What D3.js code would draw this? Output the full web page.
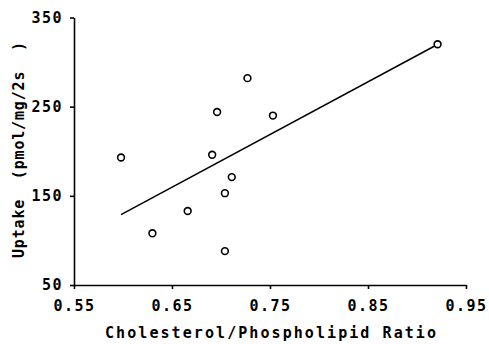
<!DOCTYPE html>
<html>
<head>
<meta charset="utf-8">
<script src="https://cdn.jsdelivr.net/npm/d3@7"></script>
<style>
body { margin: 0; background: #fff; }
text { font-family: "DejaVu Sans Mono", monospace; fill: #000; font-weight: bold; }
</style>
</head>
<body>
<div id="chart"></div>
<script>
// values
var ratio  = [0.598, 0.630, 0.666, 0.691, 0.696, 0.704, 0.704, 0.711, 0.727, 0.753, 0.921]
var uptake = [193, 108, 133, 196, 244, 88, 153, 171, 282, 240, 320]
var fitX = [0.598, 0.918]
var fitY = [129, 318]
var xTicks = [0.55, 0.65, 0.75, 0.85, 0.95]
var yTicks = [50, 150, 250, 350]

const width = 489, height = 344
const svg = d3.select("#chart").append("svg")
    .attr("width", width)
    .attr("height", height)

const x = d3.scaleLinear().domain([0.55, 0.95]).range([74, 466])
const y = d3.scaleLinear().domain([50, 350]).range([285, 17.5])

// axes
const xAxis = svg.append("g")
    .attr("transform", `translate(0, ${y(50)})`)
    .call(d3.axisBottom(x).tickValues(xTicks).tickSize(4).tickSizeOuter(0)
        .tickPadding(11).tickFormat(d3.format(".2f")))
const yAxis = svg.append("g")
    .attr("transform", `translate(${x(0.55)}, 0)`)
    .call(d3.axisLeft(y).tickValues(yTicks).tickSize(4).tickSizeOuter(0)
        .tickPadding(7))

svg.selectAll(".domain, .tick line")
    .attr("stroke", "#000")
    .attr("stroke-width", 1.6)
svg.selectAll(".tick text")
    .style("font-size", "15px")
    .attr("letter-spacing", 1.5)
    .attr("fill", "#000")

// regression line
var fit = fitX.map((d, i) => ({"x": d, "y": fitY[i]}))
svg.append("path")
    .datum(fit)
    .attr("fill", "none")
    .attr("stroke", "#000")
    .attr("stroke-width", 1.5)
    .attr("d", d3.line().x(d => x(d.x)).y(d => y(d.y)))

// points
var pts = ratio.map((d, i) => ({"x": d, "y": uptake[i]}))
svg.selectAll("circle")
    .data(pts)
    .join("circle")
    .attr("cx", d => x(d.x))
    .attr("cy", d => y(d.y))
    .attr("r", 3.4)
    .attr("fill", "#fff")
    .attr("stroke", "#000")
    .attr("stroke-width", 1.6)

// axis titles
svg.append("text")
    .attr("x", 270.5)
    .attr("y", 338)
    .attr("text-anchor", "middle")
    .attr("textLength", 331)
    .attr("lengthAdjust", "spacing")
    .style("font-size", "15px")
    .text("Cholesterol/Phospholipid Ratio")

svg.append("text")
    .attr("transform", "translate(24, 150) rotate(-90)")
    .attr("text-anchor", "middle")
    .attr("textLength", 216)
    .attr("lengthAdjust", "spacing")
    .style("font-size", "15px")
    .style("white-space", "pre")
    .attr("xml:space", "preserve")
    .text("Uptake  (pmol/mg/2s  )")
</script>
</body>
</html>
